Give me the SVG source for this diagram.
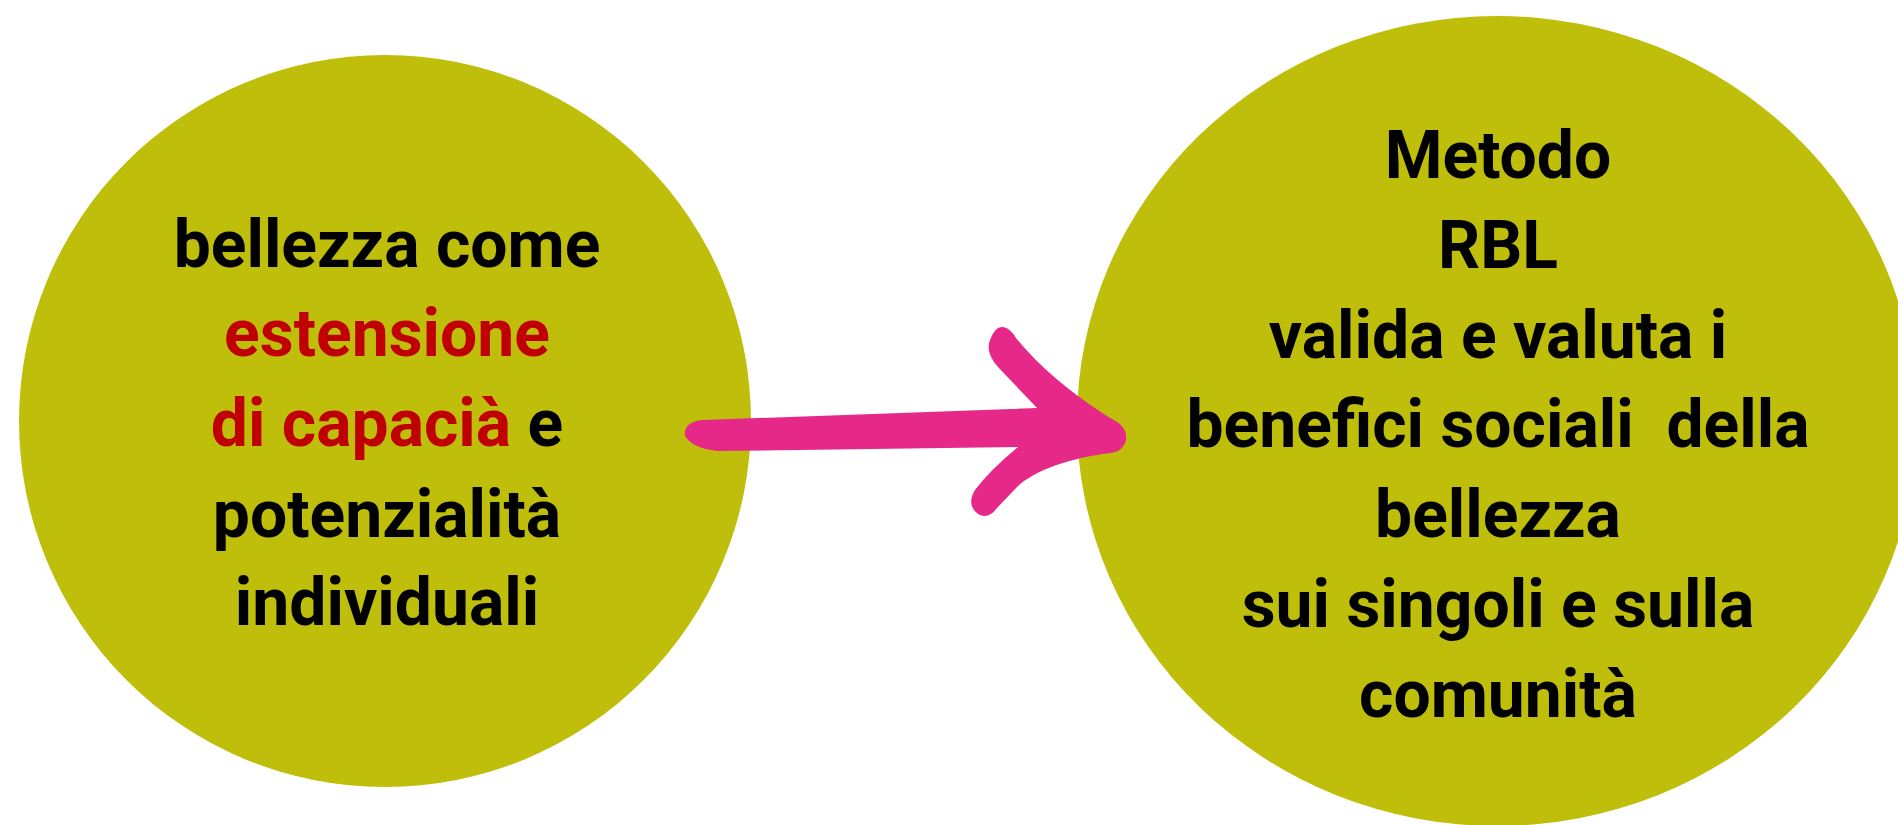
<svg xmlns="http://www.w3.org/2000/svg" width="1898" height="825" viewBox="0 0 1898 825">
<style>
.node{fill:#BFBE0A}
.t{font-family:Roboto,"Noto Sans","Liberation Sans",sans-serif;font-weight:700;font-size:66px;fill:#000;text-anchor:middle}
.red{fill:#C00000}
.arrow{fill:#E62888}
</style>
<rect width="1898" height="825" fill="#fff"/>
<g id="node-left">
<circle class="node" cx="385" cy="421" r="366"/>
<text class="t" x="387" y="267">bellezza come</text>
<text class="t red" x="387" y="356">estensione</text>
<text class="t" x="387" y="446"><tspan class="red">di capacià</tspan> e</text>
<text class="t" x="387" y="537">potenzialità</text>
<text class="t" x="387" y="625">individuali</text>
</g>
<g id="node-right">
<ellipse class="node" cx="1497" cy="421" rx="420" ry="405"/>
<text class="t" x="1498" y="178">Metodo</text>
<text class="t" x="1498" y="268">RBL</text>
<text class="t" x="1498" y="358">valida e valuta i</text>
<text class="t" x="1498" y="447" style="white-space:pre">benefici sociali  della</text>
<text class="t" x="1498" y="537">bellezza</text>
<text class="t" x="1498" y="627">sui singoli e sulla</text>
<text class="t" x="1498" y="717">comunità</text>
</g>
<g id="connectors">
<path class="arrow" d="M 703 420 L 1037 408 L 998 367 Q 985 352 990 340 Q 995 326 1003 327 Q 1010 328 1016 338 Q 1050 380 1110 418 Q 1128 426 1126 440 Q 1123 452 1110 453 C 1070 458 1035 470 1017 487 L 997 508 Q 988 520 978 514 Q 966 505 975 490 Q 990 470 1018 447 L 717 451 Q 692 448 685 436 Q 683 422 703 420 Z"/>
</g>
</svg>
